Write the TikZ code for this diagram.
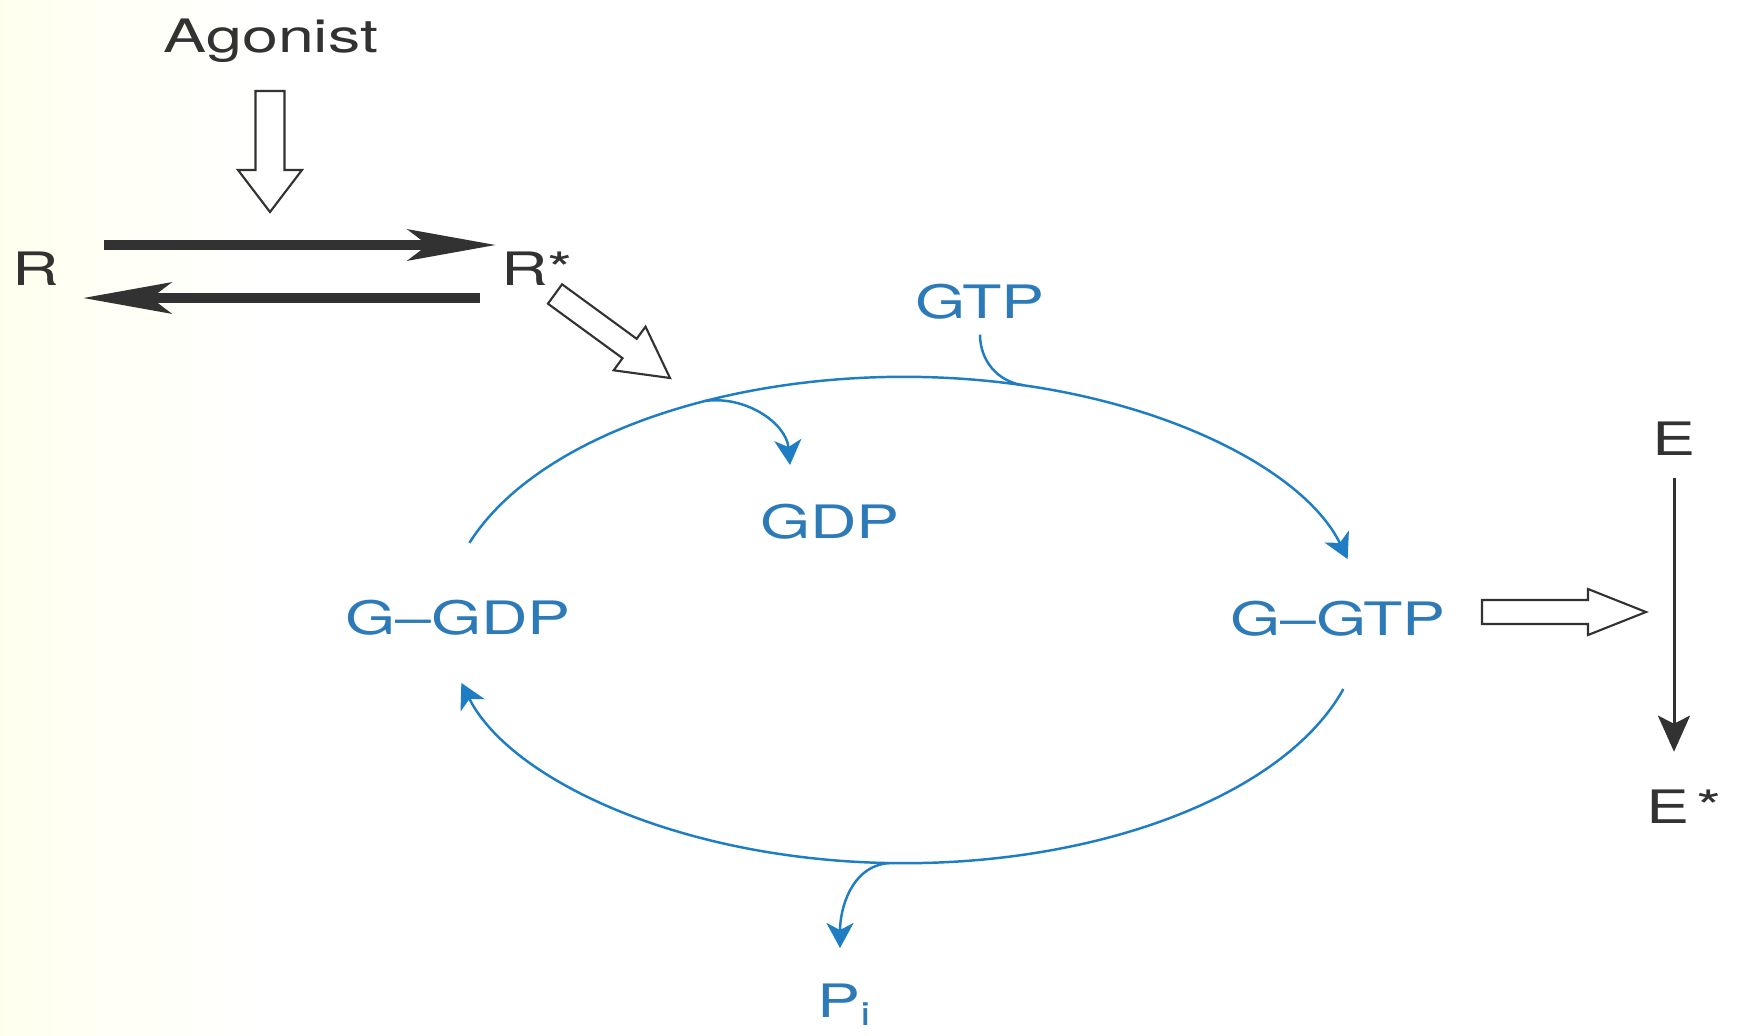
\documentclass[tikz,border=0pt]{standalone}
\usepackage{fontspec}
\setmainfont{TeX Gyre Heros}
\usepackage{graphicx}
\usetikzlibrary{arrows.meta,calc}
\definecolor{gline}{RGB}{30,125,195}
\definecolor{gtext}{RGB}{45,122,185}
\definecolor{dk}{RGB}{50,50,50}
\definecolor{cream}{RGB}{255,255,238}
\newcommand{\wtxt}[1]{\scalebox{1.4}[1]{#1}}
\newcommand{\hollowarrow}[6]{%
  \coordinate (#1s) at #2; \coordinate (#1e) at #3;
  \coordinate (#1h) at ($(#1e)!#6!(#1s)$);
  \draw[hollow] ($(#1s)!#4!90:(#1e)$) -- ($(#1h)!#4!90:(#1e)$) -- ($(#1h)!#5!90:(#1e)$) -- (#1e)
    -- ($(#1h)!#5!-90:(#1e)$) -- ($(#1h)!#4!-90:(#1e)$) -- ($(#1s)!#4!-90:(#1e)$) -- cycle;}
\begin{document}
\begin{tikzpicture}[x=0.01cm,y=0.01cm,
  lbl/.style={font=\fontsize{13.1pt}{15pt}\selectfont, inner sep=0pt, anchor=base},
  gl/.style={lbl, text=gtext},
  kl/.style={lbl, text=dk},
  cyc/.style={draw=gline, line width=0.7pt, -{Stealth[length=0.25cm,width=0.27cm,inset=0.07cm]}},
  thick arrow/.style={draw=dk, line width=0.1cm, -{Stealth[length=0.88cm,width=0.31cm,inset=0.2cm]}},
  earrow/.style={draw=dk, line width=0.85pt, -{Stealth[length=0.36cm,width=0.32cm,inset=0.08cm]}},
  hollow/.style={draw=dk, fill=white, line width=0.6pt, line join=miter}]
\fill[white] (0,0) rectangle (1739,1035);
\shade[left color=cream, right color=white] (0,0) rectangle (260,1035);
\useasboundingbox (0,0) rectangle (1739,1035);

% labels
\node[kl] (ago) at (271,983) {\wtxt{Agonist}};
\node[kl] (r) at (36,750) {\wtxt{R}};
\node[kl] (rs) at (537,750) {\wtxt{R*}};
\node[gl] (gtp) at (980,717) {\wtxt{GTP}};
\node[gl] (gdp) at (830,497) {\wtxt{GDP}};
\node[gl] (ggdp) at (458,401) {\wtxt{G–GDP}};
\node[gl] (ggtp) at (1338,400) {\wtxt{G–GTP}};
\node[kl] (e) at (1674,580) {\wtxt{E}};
\node[kl] (es) at (1684,212) {\wtxt{E\hspace{0.12em}*}};
\node[gl] (pi) at (845,18) {\wtxt{P\textsubscript{i}}};

% R <-> R*
\coordinate (fwdA) at (104,790);
\coordinate (fwdB) at (496,790);
\coordinate (bckA) at (480,737);
\coordinate (bckB) at (83,737);
\draw[thick arrow] (fwdA) -- (fwdB);
\draw[thick arrow] (bckA) -- (bckB);

% hollow arrows
\hollowarrow{ag}{(270,944)}{(270,823)}{0.145cm}{0.32cm}{0.42cm}
\hollowarrow{rg}{(555,741)}{(670,657)}{0.12cm}{0.27cm}{0.5cm}
\hollowarrow{ge}{(1482,423)}{(1646,423)}{0.12cm}{0.23cm}{0.58cm}

% G-protein cycle
\coordinate (C) at (904,415);
\draw[cyc] ($(C)+(161.5:4.58cm and 2.43cm)$) arc[start angle=161.5, end angle=14.5, x radius=4.58cm, y radius=2.43cm];
\draw[cyc] ($(C)+(-16.5:4.58cm and 2.43cm)$) arc[start angle=-16.5, end angle=-165, x radius=4.58cm, y radius=2.43cm];

% branches
\coordinate (gdpj) at ($(C)+(115.75:4.58cm and 2.43cm)$);
\coordinate (gdptip) at (790,570);
\draw[cyc] (gdpj) to[out=8, in=95] (gdptip);
\coordinate (gtpj) at ($(C)+(74.9:4.58cm and 2.43cm)$);
\draw[draw=gline, line width=0.7pt] ($(gtp.south)+(0,-15)$) to[out=-90, in=172] (gtpj);
\coordinate (pij) at ($(C)+(-91.9:4.58cm and 2.43cm)$);
\coordinate (pitip) at (840,87);
\draw[cyc] (pij) to[out=185, in=90] (pitip);

% E -> E*
\draw[earrow] ($(e.south)+(0,-22)$) -- ($(e.south |- es.north)+(0,37)$);
\end{tikzpicture}
\end{document}
